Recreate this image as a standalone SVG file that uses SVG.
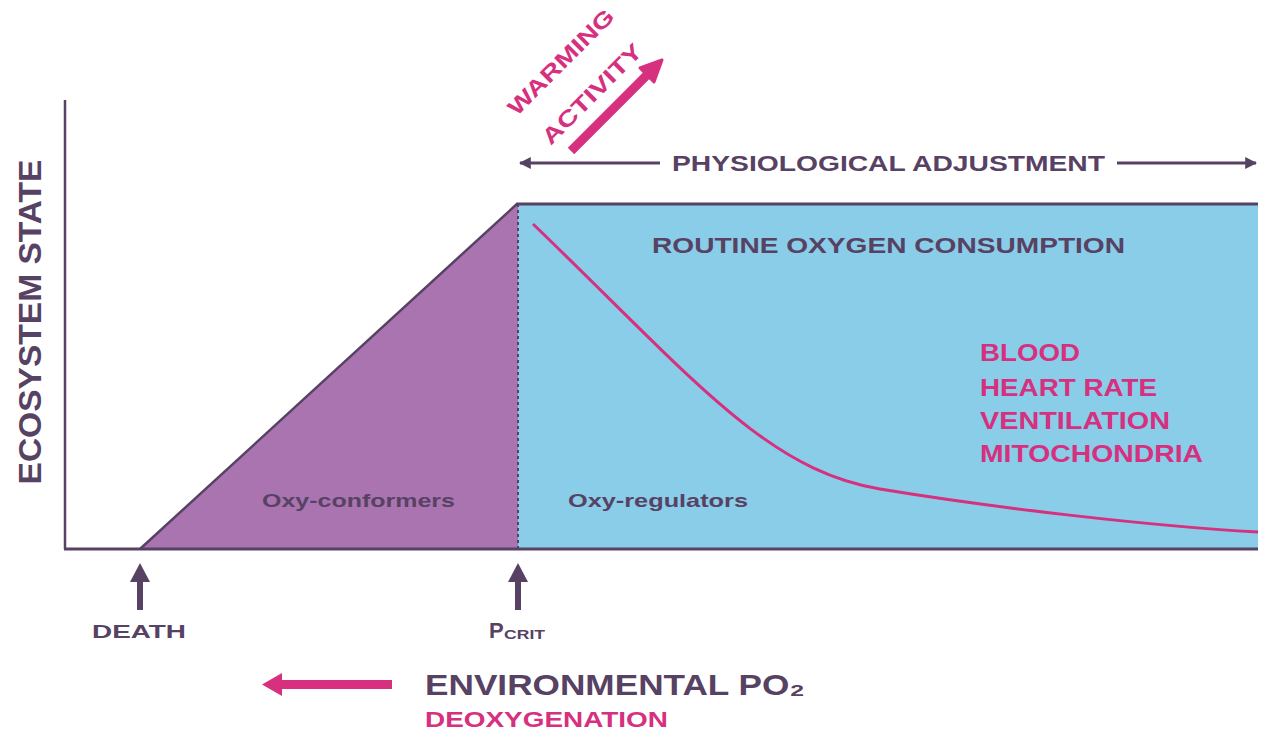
<svg xmlns="http://www.w3.org/2000/svg" width="1261" height="733" viewBox="0 0 1261 733">
<style>
.dk{fill:#574264;font-family:"Liberation Sans",Arial,sans-serif;font-weight:bold}
.pk{fill:#d6307f;font-family:"Liberation Sans",Arial,sans-serif;font-weight:bold}
.ln{stroke:#574264;fill:none}
</style>
<defs>
<marker id="ah" viewBox="0 0 10 10" refX="9" refY="5" markerWidth="4" markerHeight="4" orient="auto-start-reverse">
<path d="M0,0 L10,5 L0,10 z" fill="#574264"/>
</marker>
</defs>
<rect width="1261" height="733" fill="#fff"/>
<g id="regions">
<polygon points="140,549 518,203 518,549" fill="#a974b0"/>
<rect x="518" y="203" width="740" height="346" fill="#89cde8"/>
<line x1="140" y1="549" x2="518" y2="203" class="ln" stroke-width="2.5"/>
<line x1="518" y1="204" x2="1258" y2="204" class="ln" stroke-width="3"/>
<line x1="518" y1="204" x2="518" y2="549" class="ln" stroke-width="2" stroke-dasharray="3,3"/>
</g>
<g id="axes">
<line x1="65" y1="100" x2="65" y2="549" class="ln" stroke-width="2.5"/>
<line x1="64" y1="549" x2="1258" y2="549" class="ln" stroke-width="3"/>
</g>
<g id="curve">
<path d="M533,224 C690,375 765,470 880,489 S1150,526 1258,532" fill="none" stroke="#d6307f" stroke-width="3"/>
</g>
<g id="labels">
<text class="dk" font-size="22" x="652" y="253" textLength="473" lengthAdjust="spacingAndGlyphs">ROUTINE OXYGEN CONSUMPTION</text>
<text class="dk" font-size="19" x="262" y="507" textLength="193" lengthAdjust="spacingAndGlyphs">Oxy-conformers</text>
<text class="dk" font-size="19" x="568" y="507" textLength="180" lengthAdjust="spacingAndGlyphs">Oxy-regulators</text>
<text class="dk" font-size="31" transform="translate(41,322) rotate(-90)" text-anchor="middle" textLength="325" lengthAdjust="spacingAndGlyphs">ECOSYSTEM STATE</text>
</g>
<g id="factors">
<text class="pk" font-size="23" x="980" y="361" textLength="100" lengthAdjust="spacingAndGlyphs">BLOOD</text>
<text class="pk" font-size="23" x="980" y="396" textLength="177" lengthAdjust="spacingAndGlyphs">HEART RATE</text>
<text class="pk" font-size="23" x="980" y="429" textLength="190" lengthAdjust="spacingAndGlyphs">VENTILATION</text>
<text class="pk" font-size="23" x="980" y="462" textLength="223" lengthAdjust="spacingAndGlyphs">MITOCHONDRIA</text>
</g>
<g id="physiological-adjustment">
<line x1="520" y1="163" x2="660" y2="163" class="ln" stroke-width="3" marker-start="url(#ah)"/>
<line x1="1117" y1="163" x2="1256" y2="163" class="ln" stroke-width="3" marker-end="url(#ah)"/>
<text class="dk" font-size="22" x="672" y="171" textLength="433" lengthAdjust="spacingAndGlyphs">PHYSIOLOGICAL ADJUSTMENT</text>
</g>
<g id="warming-activity">
<text class="pk" font-size="22" text-anchor="middle" dominant-baseline="central" transform="translate(561,62) rotate(-45)" textLength="140" lengthAdjust="spacingAndGlyphs">WARMING</text>
<text class="pk" font-size="22" text-anchor="middle" dominant-baseline="central" transform="translate(592,94) rotate(-45)" textLength="132" lengthAdjust="spacingAndGlyphs">ACTIVITY</text>
<line x1="571" y1="151" x2="648" y2="74" stroke="#d6307f" stroke-width="9"/>
<polygon points="662,60 640,68 654,82" fill="#d6307f" stroke="#d6307f" stroke-width="3" stroke-linejoin="round"/>
</g>
<g id="death">
<rect x="137" y="580" width="6" height="30" fill="#574264"/>
<polygon points="140,563 130,582 150,582" fill="#574264"/>
<text class="dk" font-size="19" x="92" y="638" textLength="94" lengthAdjust="spacingAndGlyphs">DEATH</text>
</g>
<g id="pcrit">
<rect x="515" y="580" width="6" height="30" fill="#574264"/>
<polygon points="518,563 508,582 528,582" fill="#574264"/>
<text class="dk" font-size="22" x="489" y="638">P</text>
<text class="dk" font-size="12" x="504" y="639" textLength="41" lengthAdjust="spacingAndGlyphs">CRIT</text>
</g>
<g id="environmental">
<rect x="277" y="680" width="115" height="9" fill="#d6307f"/>
<polygon points="262,684.5 282,673 282,696" fill="#d6307f"/>
<text class="dk" font-size="30" x="425" y="695" textLength="380" lengthAdjust="spacingAndGlyphs">ENVIRONMENTAL PO₂</text>
<text class="pk" font-size="22" x="425" y="727" textLength="243" lengthAdjust="spacingAndGlyphs">DEOXYGENATION</text>
</g>
</svg>
